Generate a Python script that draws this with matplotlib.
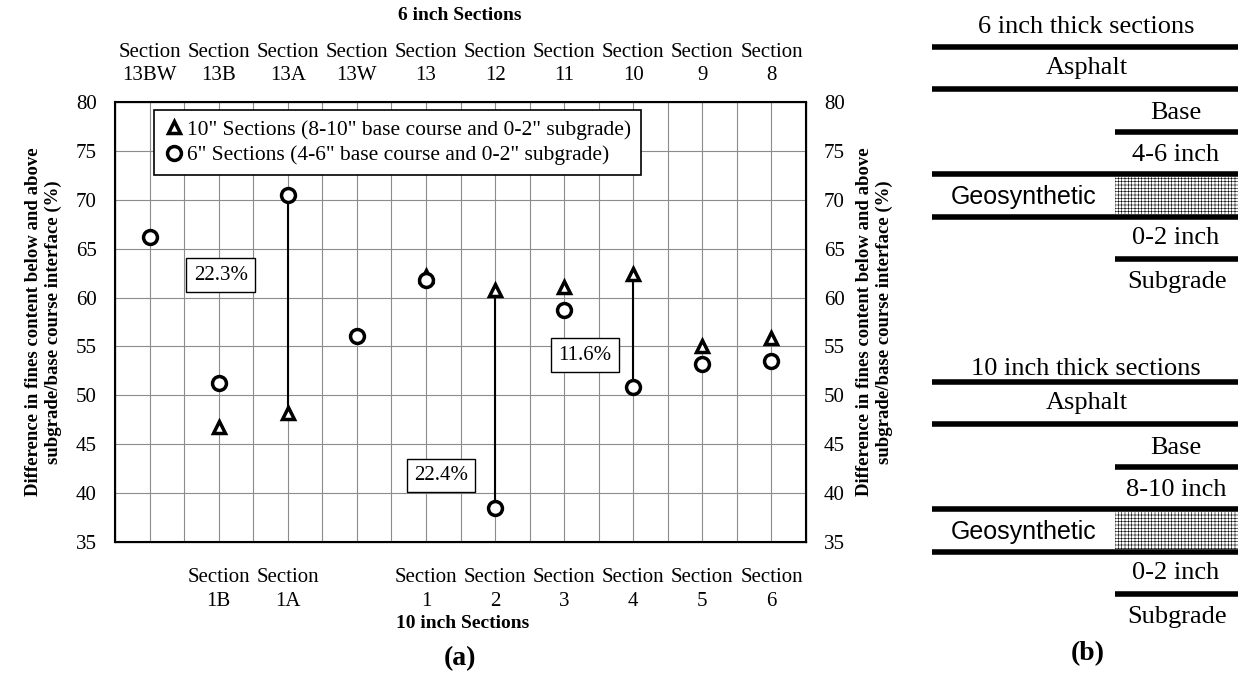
import numpy as np
import matplotlib.pyplot as plt
from matplotlib.patches import Rectangle

plt.rcParams['font.family'] = ['Liberation Serif', 'DejaVu Serif']
plt.rcParams['hatch.linewidth'] = 0.4

# data
top_labels = ['13BW', '13B', '13A', '13W', '13', '12', '11', '10', '9', '8']
bottom_labels = ['', '1B', '1A', '', '1', '2', '3', '4', '5', '6']
six_inch = [66.2, 51.3, 70.5, 56.1, 61.8, 38.5, 58.7, 50.9, 53.2, 53.5]
ten_inch = [np.nan, 46.8, 48.2, np.nan, 62.2, 60.8, 61.1, 62.4, 55.0, 55.9]

# sections with a marked difference: (position index, label, label x, label y)
diff_idx = [2, 5, 7]
diff_text = ['22.3%', '22.4%', '11.6%']
diff_x = [2.03, 5.22, 7.3]
diff_y = [62.3, 41.8, 54.1]

profile_6 = ['6 inch thick sections', 'Asphalt', 'Base', '4-6 inch', 'Geosynthetic', '0-2 inch', 'Subgrade']
profile_10 = ['10 inch thick sections', 'Asphalt', 'Base', '8-10 inch', 'Geosynthetic', '0-2 inch', 'Subgrade']

x = np.arange(1, len(top_labels) + 1)

fig = plt.figure(figsize=(12.39, 6.77), dpi=100)
ax = fig.add_axes([115 / 1239, 1 - 542 / 677, 691 / 1239, 440 / 677])
ax.set_xlim(0.5, 10.5)
ax.set_ylim(35, 80)

# grid
for gx in np.arange(1, 10.5, 0.5):
    ax.axvline(gx, color='#8c8c8c', lw=0.8, zorder=0)
for gy in range(40, 80, 5):
    ax.axhline(gy, color='#8c8c8c', lw=0.8, zorder=0)

# difference stems
for i in diff_idx:
    ax.plot([x[i], x[i]], [six_inch[i], ten_inch[i]], color='black', lw=1.5, zorder=2)

ax.plot(x, ten_inch, '^', ms=9, mfc='white', mec='black', mew=2.5, ls='none', zorder=3,
        label='10" Sections (8-10" base course and 0-2" subgrade)')
ax.plot(x, six_inch, 'o', ms=10, mfc='white', mec='black', mew=2.5, ls='none', zorder=3,
        label='6" Sections (4-6" base course and 0-2" subgrade)')

for t, tx, ty in zip(diff_text, diff_x, diff_y):
    ax.text(tx, ty, t, fontsize=15, ha='center', va='center', zorder=4,
            bbox=dict(boxstyle='square,pad=0.35', fc='white', ec='black', lw=1))

ax.set_xticks(x)
ax.set_xticklabels(['Section\n' + b if b else '' for b in bottom_labels], fontsize=15, linespacing=1.3)
ax.set_yticks(range(35, 81, 5))
ax.tick_params(axis='both', length=0, labelsize=15)
ax.tick_params(axis='x', pad=19)
ax.tick_params(axis='y', pad=13)
for s in ax.spines.values():
    s.set_linewidth(1.5)
ylab = 'Difference in fines content below and above\nsubgrade/base course interface (%)'
ax.set_ylabel(ylab, fontsize=13.5, fontweight='bold', labelpad=10)

ax_top = ax.twiny()
ax_top.set_xlim(ax.get_xlim())
ax_top.set_xticks(x)
ax_top.set_xticklabels(['Section\n' + t for t in top_labels], fontsize=15, linespacing=1.3)
ax_top.tick_params(axis='x', length=0, pad=12)

ax_r = ax.twinx()
ax_r.set_ylim(ax.get_ylim())
ax_r.set_yticks(range(35, 81, 5))
ax_r.tick_params(axis='y', length=0, labelsize=15, pad=13)
ax_r.set_ylabel(ylab, fontsize=13.5, fontweight='bold', labelpad=8)

leg = ax.legend(loc='upper left', bbox_to_anchor=(39 / 691, 1 - 8 / 440), borderaxespad=0,
                fontsize=15.5, handlelength=1.0, handletextpad=0.1, labelspacing=0.25,
                borderpad=0.45, fancybox=False, framealpha=1, edgecolor='black')
leg.get_frame().set_linewidth(1.2)
leg.set_zorder(5)

fig.text(460 / 1239, 1 - 16 / 677, '6 inch Sections', ha='center', va='center', fontsize=14, fontweight='bold')
fig.text(463 / 1239, 1 - 624 / 677, '10 inch Sections', ha='center', va='center', fontsize=14, fontweight='bold')
fig.text(460 / 1239, 1 - 659 / 677, '(a)', ha='center', va='center', fontsize=20, fontweight='bold')

# panel (b): layer sketches in pixel coordinates
axb = fig.add_axes([0, 0, 1, 1])
axb.set_xlim(0, 1239)
axb.set_ylim(677, 0)
axb.axis('off')


def draw_profile(y0, title_y, labels):
    x0, xs, x1 = 932, 1115, 1238
    fs = 19
    axb.text(1086, title_y, labels[0], ha='center', va='center', fontsize=fs)
    # full-width and partial lines
    full = [0, 42, 127, 170]
    part = [85, 212]
    for d in full:
        axb.plot([x0, x1], [y0 + d, y0 + d], color='black', lw=4, solid_capstyle='butt')
    for d in part:
        axb.plot([xs, x1], [y0 + d, y0 + d], color='black', lw=4, solid_capstyle='butt')
    axb.add_patch(Rectangle((xs, y0 + 130), x1 - xs, 37, fc='white', ec='black', lw=0, hatch='+++++'))
    axb.text(1087, y0 + 21, labels[1], ha='center', va='center', fontsize=fs)
    axb.text(1176, y0 + 66, labels[2], ha='center', va='center', fontsize=fs)
    axb.text(1176, y0 + 108, labels[3], ha='center', va='center', fontsize=fs)
    axb.text(1024, y0 + 150, labels[4], ha='center', va='center', fontsize=18, family='Liberation Sans')
    axb.text(1176, y0 + 191, labels[5], ha='center', va='center', fontsize=fs)
    axb.text(1177, y0 + 235, labels[6], ha='center', va='center', fontsize=fs)


draw_profile(47, 27, profile_6)
draw_profile(382, 369, profile_10)
fig.text(1088 / 1239, 1 - 654 / 677, '(b)', ha='center', va='center', fontsize=20, fontweight='bold')

plt.savefig('out.png', dpi=100)
